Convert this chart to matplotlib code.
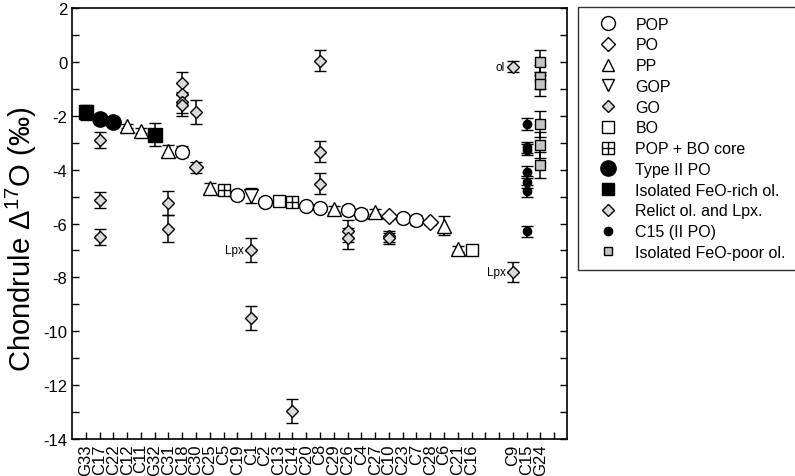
import numpy as np
import matplotlib
matplotlib.use("Agg")
import matplotlib.pyplot as plt
from matplotlib.lines import Line2D

plt.rcParams['font.family'] = ['Liberation Sans', 'DejaVu Sans']
plt.rcParams['axes.unicode_minus'] = False
plt.rcParams['mathtext.fontset'] = 'custom'
plt.rcParams['mathtext.rm'] = 'Liberation Sans'
plt.rcParams['mathtext.it'] = 'Liberation Sans:italic'

# chondrule names along the x axis ("" = empty slot)
categories = ["G33", "C17", "C22", "C12", "C11", "G32", "C31", "C18", "C30", "C25",
              "C5", "C19", "C1", "C2", "C13", "C14", "C20", "C8", "C29", "C26",
              "C4", "C27", "C10", "C23", "C7", "C28", "C6", "C21", "C16", "", "",
              "C9", "C15", "G24"]

pop_names = ["C18", "C19", "C2", "C20", "C8", "C26", "C4", "C23", "C7"]
pop_vals = [-3.33, -4.93, -5.19, -5.34, -5.42, -5.50, -5.65, -5.81, -5.88]
pop_err = [0.20, 0.10, 0.08, 0.10, 0.12, 0.15, 0.20, 0.12, 0.18]

po_names = ["C10", "C28"]
po_vals = [-5.73, -5.96]
po_err = [0.10, 0.10]

pp_names = ["C12", "C11", "C31", "C25", "C29", "C27", "C6", "C21"]
pp_vals = [-2.39, -2.55, -3.30, -4.69, -5.46, -5.56, -6.08, -6.94]
pp_err = [0.08, 0.08, 0.20, 0.20, 0.10, 0.10, 0.35, 0.10]

gop_names = ["C1"]
gop_vals = [-4.97]
gop_err = [0.28]

go_names = ["C30"]
go_vals = [-3.91]
go_err = [0.20]

bo_names = ["C13", "C16"]
bo_vals = [-5.15, -6.97]
bo_err = [0.08, 0.18]

popbo_names = ["C5", "C14"]
popbo_vals = [-4.76, -5.21]
popbo_err = [0.15, 0.15]

typeii_names = ["C17", "C22"]
typeii_vals = [-2.12, -2.22]
typeii_err = [0.20, 0.08]

ferich_names = ["G33", "G32"]
ferich_vals = [-1.87, -2.71]
ferich_err = [0.28, 0.43]

relict_names = ["C17", "C17", "C17", "C31", "C31", "C18", "C18", "C18", "C18", "C30",
                "C1", "C1", "C14", "C8", "C8", "C8", "C26", "C26", "C10", "C10",
                "C9", "C9"]
relict_vals = [-2.90, -5.12, -6.50, -5.25, -6.20, -0.80, -1.20, -1.50, -1.60, -1.87,
               -6.98, -9.52, -12.97, 0.04, -3.33, -4.53, -6.27, -6.55, -6.47, -6.55,
               -0.18, -7.81]
relict_err = [0.29, 0.30, 0.30, 0.45, 0.50, 0.42, 0.40, 0.40, 0.42, 0.44,
              0.45, 0.45, 0.45, 0.39, 0.38, 0.39, 0.40, 0.40, 0.20, 0.20,
              0.20, 0.37]

c15_vals = [-2.31, -3.17, -3.26, -4.10, -4.47, -4.78, -6.29]
c15_err = [0.22, 0.20, 0.20, 0.22, 0.22, 0.22, 0.20]

fepoor_vals = [-0.02, -0.57, -0.82, -2.31, -3.07, -3.82]
fepoor_err = [0.46, 0.45, 0.45, 0.48, 0.48, 0.48]

pos = {name: i + 1 for i, name in enumerate(categories) if name}


def xs(names):
    return [pos[n] for n in names]


fig = plt.figure(figsize=(7.95, 4.77), dpi=100)
ax = fig.add_axes([0.0906, 0.0776, 0.6222, 0.9034])

eb = dict(ecolor="black", elinewidth=1.1, capsize=4.5, capthick=1.1, linestyle="none",
          mec="black", mew=1.0)
gray = "#dadada"

ax.errorbar(xs(relict_names), relict_vals, yerr=relict_err, fmt="D", ms=6.5, mfc=gray, zorder=2, **eb)
ax.errorbar(xs(pop_names), pop_vals, yerr=pop_err, fmt="o", ms=10, mfc="white", zorder=3, **eb)
ax.errorbar(xs(po_names), po_vals, yerr=po_err, fmt="D", ms=8, mfc="white", zorder=3, **eb)
ax.errorbar(xs(pp_names), pp_vals, yerr=pp_err, fmt="^", ms=10, mfc="white", zorder=3, **eb)
ax.errorbar(xs(gop_names), gop_vals, yerr=gop_err, fmt="v", ms=10, mfc="white", zorder=3, **eb)
ax.errorbar(xs(go_names), go_vals, yerr=go_err, fmt="D", ms=7.5, mfc=gray, zorder=3, **eb)
ax.errorbar(xs(bo_names), bo_vals, yerr=bo_err, fmt="s", ms=9, mfc="white", zorder=3, **eb)
ax.errorbar(xs(popbo_names), popbo_vals, yerr=popbo_err, fmt="s", ms=9, mfc="white", zorder=3, **eb)
ax.plot(xs(popbo_names), popbo_vals, "+", ms=9, mec="black", mew=1.0, zorder=4)
ax.errorbar(xs(typeii_names), typeii_vals, yerr=typeii_err, fmt="o", ms=11, mfc="black", zorder=3, **eb)
ax.errorbar(xs(ferich_names), ferich_vals, yerr=ferich_err, fmt="s", ms=10, mfc="black", zorder=3, **eb)
ax.errorbar([pos["C15"]] * len(c15_vals), c15_vals, yerr=c15_err, fmt="o", ms=6, mfc="black", zorder=3, **eb)
ax.errorbar([pos["G24"]] * len(fepoor_vals), fepoor_vals, yerr=fepoor_err, fmt="s", ms=7, mfc="#c4c4c4", zorder=3, **eb)

ax.text(pos["C1"] - 0.5, -6.98, "Lpx", fontsize=8.5, ha="right", va="center")
ax.text(pos["C9"] - 0.6, -0.18, "ol", fontsize=8.5, ha="right", va="center")
ax.text(pos["C9"] - 0.5, -7.81, "Lpx", fontsize=8.5, ha="right", va="center")

ax.set_xlim(0, 35.9)
ax.set_ylim(-14, 2)
ax.set_xticks(range(1, 36))
ax.set_xticklabels(categories + [""], rotation=90, fontsize=12)
ax.set_yticks(np.arange(-14, 3, 2))
ax.set_yticks(np.arange(-13, 2, 2), minor=True)
ax.tick_params(axis="y", which="both", direction="in", right=True, length=5, width=1, labelsize=12)
ax.tick_params(axis="x", direction="in", length=5, width=1, pad=3)
ax.set_ylabel("Chondrule $\\Delta^{17}$O (‰)", fontsize=21)
ax.yaxis.set_label_coords(-0.066, 0.465)
for s in ax.spines.values():
    s.set_linewidth(1.2)

# legend
def h(marker, ms, fc):
    return Line2D([], [], linestyle="none", marker=marker, ms=ms, mfc=fc, mec="black", mew=1.0)

handles = [h("o", 10, "white"), h("D", 7, "white"), h("^", 9, "white"), h("v", 9, "white"),
           h("D", 6, gray), h("s", 8, "white"),
           (h("s", 8, "white"), h("+", 8, "white")),
           h("o", 11, "black"), h("s", 9, "black"), h("D", 6, gray),
           h("o", 6, "black"), h("s", 6, "#c4c4c4")]
names = ["POP", "PO", "PP", "GOP", "GO", "BO", "POP + BO core", "Type II PO",
         "Isolated FeO-rich ol.", "Relict ol. and Lpx.", "C15 (II PO)", "Isolated FeO-poor ol."]
leg = fig.legend(handles, names, loc="upper left", bbox_to_anchor=(0.727, 0.983),
                 fontsize=11.5, frameon=True, fancybox=False, edgecolor="black",
                 borderpad=0.6, labelspacing=0.36, handletextpad=0.4, handlelength=2.6,
                 borderaxespad=0)
leg.get_frame().set_linewidth(1.0)

fig.savefig("out.png", dpi=100)
